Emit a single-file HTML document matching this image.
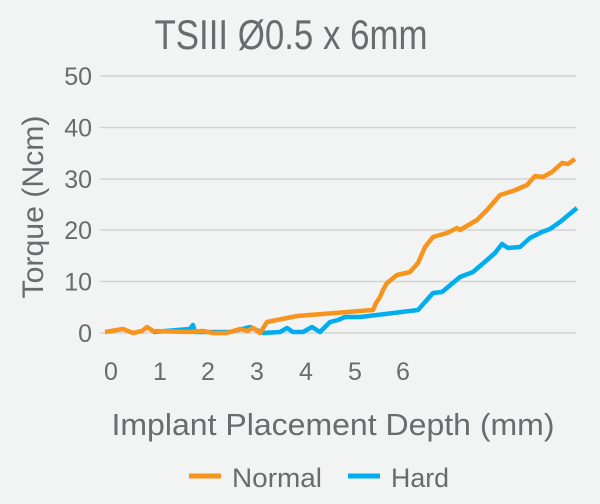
<!DOCTYPE html>
<html><head><style>
html,body{margin:0;padding:0;background:#f2f3f3;}
svg{display:block;}
text{font-family:"Liberation Sans",sans-serif;fill:#6b6b6e;}
</style></head><body>
<svg width="600" height="504" viewBox="0 0 600 504" xmlns="http://www.w3.org/2000/svg">
<rect width="600" height="504" fill="#f2f3f3"/>
<text x="291" y="49" font-size="42" text-anchor="middle" textLength="273" lengthAdjust="spacingAndGlyphs">TSIII Ø0.5 x 6mm</text>
<g stroke="#d3d3d3" stroke-width="1.5">
<line x1="100" x2="576" y1="76" y2="76"/>
<line x1="100" x2="576" y1="127.5" y2="127.5"/>
<line x1="100" x2="576" y1="179" y2="179"/>
<line x1="100" x2="576" y1="230" y2="230"/>
<line x1="100" x2="576" y1="281.5" y2="281.5"/>
<line x1="100" x2="576" y1="333" y2="333"/>
</g>
<g font-size="25" text-anchor="end">
<text x="92" y="85">50</text>
<text x="92" y="136.5">40</text>
<text x="92" y="188">30</text>
<text x="92" y="239">20</text>
<text x="92" y="290.5">10</text>
<text x="92" y="342">0</text>
</g>
<g font-size="25" text-anchor="middle">
<text x="111" y="380">0</text>
<text x="160" y="380">1</text>
<text x="208" y="380">2</text>
<text x="257" y="380">3</text>
<text x="306" y="380">4</text>
<text x="355" y="380">5</text>
<text x="403" y="380">6</text>
</g>
<text x="333" y="435" font-size="31" text-anchor="middle" textLength="443" lengthAdjust="spacingAndGlyphs">Implant Placement Depth (mm)</text>
<text transform="translate(43,207) rotate(-90)" font-size="30" text-anchor="middle" textLength="183" lengthAdjust="spacingAndGlyphs">Torque (Ncm)</text>
<polyline fill="none" stroke="#00aeef" stroke-width="4.5" stroke-linejoin="round" points="153,332 190,329 193,325 195,332 230,332 250,327 263,333 280,332 287,328 293,332 303,332 312,327 320,332 330,322 338,320 345,317 360,317 418,310 433,293 442,292 460,277 473,272 487,260 495,253 502,244 508,248 520,247 530,238 542,232 550,229 560,222 577,208"/>
<polyline fill="none" stroke="#f7941d" stroke-width="4.5" stroke-linejoin="round" points="105,332 123,329 133,333 142,331 147,327 153,331 190,332 203,331 213,333 227,333 240,329 247,331 253,328 260,333 267,322 277,320 297,316 360,311 373,310 376,303 380,297 383,290 387,283 397,275 410,272 418,263 425,247 433,237 447,233 457,228 460,230 477,220 487,210 500,195 513,191 527,185 535,176 543,177 552,172 562,163 568,164 575,159"/>
<line x1="189" x2="221" y1="476" y2="476" stroke="#f7941d" stroke-width="5"/>
<text x="232" y="487" font-size="27" textLength="90" lengthAdjust="spacingAndGlyphs">Normal</text>
<line x1="348" x2="380" y1="476" y2="476" stroke="#00aeef" stroke-width="5"/>
<text x="391" y="487" font-size="27" textLength="58" lengthAdjust="spacingAndGlyphs">Hard</text>
</svg>
</body></html>
